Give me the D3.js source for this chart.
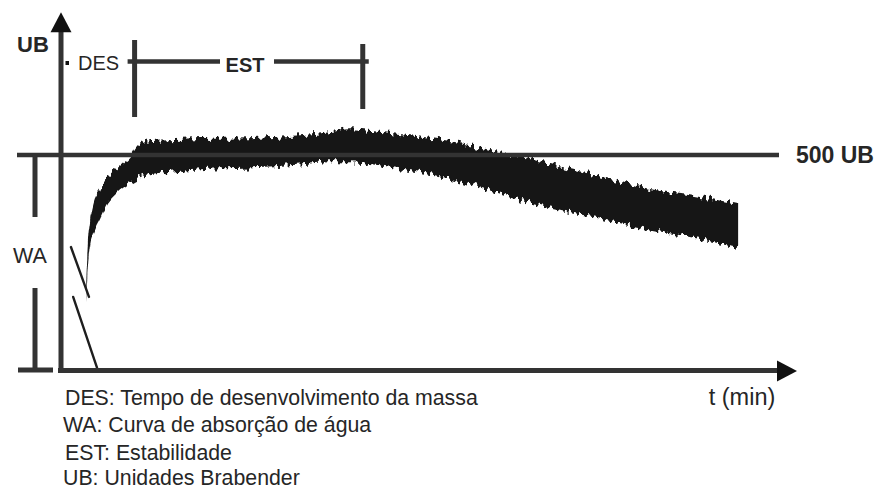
<!DOCTYPE html>
<html>
<head>
<meta charset="utf-8">
<script src="https://cdn.jsdelivr.net/npm/d3@7"></script>
<style>
  html, body { margin: 0; padding: 0; background: #fff; }
  svg { display: block; font-family: "Liberation Sans", Arial, sans-serif; }
</style>
</head>
<body>
<svg id="chart" width="877" height="499"></svg>
<script>
// Farinogram: dough consistency (UB) against mixing time (min)

// Envelope of the recorded trace band
const bandTime  = [0.68, 0.73, 0.79, 0.87, 1.06, 1.28, 1.47, 1.69, 1.88, 2.07, 2.23, 2.42, 3.1, 3.8, 5.1, 6.5, 7.3, 7.85, 8.5, 9.2, 10.6, 11.9, 13.3, 14.6, 16.0, 17.4, 18.4];
const bandUpper = [181, 291, 344, 384, 419, 451, 465, 481, 495, 519, 528, 532, 535, 537, 539, 546, 553, 560, 555, 549, 532, 507, 479, 451, 421, 402, 386];
const bandLower = [160, 238, 288, 316, 353, 391, 410, 426, 436, 445, 452, 455, 462, 467, 471, 478, 483, 483, 478, 469, 444, 411, 378, 353, 327, 304, 283];

// Thin pen strokes at the very start of mixing
const startTraceTime = [[0.27, 0.76], [0.33, 0.98]];
const startTraceUB   = [[286, 170], [170, 5]];

const refLevel = 500;   // UB reference line
const desTime  = 2.0;   // dough development time (min)
const estEnd   = 8.2;   // end of stability window (min)
const timeMax  = 20;
const ubMax    = 832;

const footnotes = [
  "DES: Tempo de desenvolvimento da massa",
  "WA: Curva de absorção de água",
  "EST: Estabilidade",
  "UB: Unidades Brabender"
];

const svg = d3.select("#chart");
const ink = "#333";
const textInk = "#262626";

const x = d3.scaleLinear().domain([0, timeMax]).range([61, 797]);
const y = d3.scaleLinear().domain([0, refLevel]).range([370, 155]);

// ragged edge for the oscillating pen trace
const defs = svg.append("defs");
const f = defs.append("filter").attr("id", "rough")
  .attr("x", "-5%").attr("y", "-30%").attr("width", "110%").attr("height", "160%");
f.append("feTurbulence").attr("type", "fractalNoise")
  .attr("baseFrequency", "0.32 0.09").attr("numOctaves", 1).attr("seed", 11).attr("result", "n");
f.append("feColorMatrix").attr("in", "n").attr("type", "matrix")
  .attr("values", "0 0 0 0 0.5  0 1.8 0 0 -0.4  0 0 0 0 0  0 0 0 0 1").attr("result", "m");
f.append("feDisplacementMap").attr("in", "SourceGraphic").attr("in2", "m")
  .attr("scale", 8).attr("xChannelSelector", "R").attr("yChannelSelector", "G").attr("result", "d");
f.append("feGaussianBlur").attr("in", "d").attr("stdDeviation", 0.45);

// ---- trace band
const band = bandTime.map((t, i) => ({ t, hi: bandUpper[i], lo: bandLower[i] }));
const area = d3.area()
  .x(d => x(d.t)).y0(d => y(d.lo)).y1(d => y(d.hi))
  .curve(d3.curveMonotoneX);
svg.append("path").datum(band)
  .attr("d", area)
  .attr("fill", "#171717")
  .attr("filter", "url(#rough)");

// starting strokes
const line = d3.line().x(d => x(d[0])).y(d => y(d[1]));
startTraceTime.forEach((ts, i) => {
  const pts = ts.map((t, j) => [t, startTraceUB[i][j]]);
  svg.append("path").attr("d", line(pts))
    .attr("fill", "none").attr("stroke", "#1e1e1e")
    .attr("stroke-width", 2.4).attr("stroke-linecap", "round");
});

// ---- axes (bare arrows)
const x0 = x(0), y0 = y(0);
svg.append("line").attr("x1", x0).attr("x2", x0)
  .attr("y1", y0 + 2.5).attr("y2", y(ubMax) + 14)
  .attr("stroke", ink).attr("stroke-width", 5);
svg.append("path")
  .attr("d", `M${x0},${y(ubMax)} L${x0 - 10.5},${y(ubMax) + 20} L${x0 + 10.5},${y(ubMax) + 20} Z`)
  .attr("fill", "#111");

svg.append("line").attr("x1", x0 - 3).attr("x2", x(timeMax) - 14)
  .attr("y1", y0 + 0.5).attr("y2", y0 + 0.5)
  .attr("stroke", ink).attr("stroke-width", 5);
svg.append("path")
  .attr("d", `M${x(timeMax)},${y0 + 1} L${x(timeMax) - 20},${y0 - 9.5} L${x(timeMax) - 20},${y0 + 11.5} Z`)
  .attr("fill", "#111");

// ---- 500 UB reference line
svg.append("line").attr("x1", 17).attr("x2", 779)
  .attr("y1", y(refLevel)).attr("y2", y(refLevel))
  .attr("stroke", ink).attr("stroke-width", 4.5);
svg.append("text").attr("x", 796).attr("y", y(refLevel) + 8)
  .attr("font-size", 23).attr("font-weight", "bold").attr("fill", textInk)
  .text(refLevel + " UB");

// ---- WA bracket (0 to 500 UB)
svg.append("line").attr("x1", 35).attr("x2", 35)
  .attr("y1", y(refLevel)).attr("y2", 217)
  .attr("stroke", ink).attr("stroke-width", 5);
svg.append("line").attr("x1", 35).attr("x2", 35)
  .attr("y1", 288).attr("y2", y0)
  .attr("stroke", ink).attr("stroke-width", 5);
svg.append("line").attr("x1", 18).attr("x2", 53)
  .attr("y1", y0).attr("y2", y0)
  .attr("stroke", ink).attr("stroke-width", 5);
svg.append("text").attr("x", 13).attr("y", 263)
  .attr("font-size", 21.5).attr("fill", textInk).text("WA");

// ---- axis title UB
svg.append("text").attr("x", 17).attr("y", 52)
  .attr("font-size", 22).attr("font-weight", "bold").attr("fill", textInk).text("UB");

// ---- DES / EST bracket
const by = 61.5;
const xd = x(desTime), xe = x(estEnd);
svg.append("rect").attr("x", x0 + 4.5).attr("y", 61).attr("width", 3.5).attr("height", 4).attr("fill", "#111");
svg.append("text").attr("x", 78).attr("y", 70)
  .attr("font-size", 20).attr("fill", textInk).text("DES");
svg.append("line").attr("x1", xd).attr("x2", xd).attr("y1", 40).attr("y2", 117)
  .attr("stroke", ink).attr("stroke-width", 5);
svg.append("line").attr("x1", xe).attr("x2", xe).attr("y1", 44).attr("y2", 109)
  .attr("stroke", ink).attr("stroke-width", 5);
svg.append("line").attr("x1", xd - 7).attr("x2", 220).attr("y1", by).attr("y2", by)
  .attr("stroke", ink).attr("stroke-width", 4.5);
svg.append("line").attr("x1", 274).attr("x2", xe + 6).attr("y1", by).attr("y2", by)
  .attr("stroke", ink).attr("stroke-width", 4.5);
svg.append("text").attr("x", 245).attr("y", 72).attr("text-anchor", "middle")
  .attr("font-size", 20).attr("font-weight", "bold").attr("fill", textInk).text("EST");

// ---- x axis title
svg.append("text").attr("x", 742).attr("y", 405).attr("text-anchor", "middle")
  .attr("font-size", 23.5).attr("fill", textInk).text("t (min)");

// ---- footnotes
const noteX = [65, 63, 65, 63];
const noteY = [405, 432, 460, 485];
svg.selectAll("text.note").data(footnotes).join("text")
  .attr("class", "note")
  .attr("x", (d, i) => noteX[i]).attr("y", (d, i) => noteY[i])
  .attr("font-size", 21.3).attr("fill", textInk)
  .text(d => d);
</script>
</body>
</html>
